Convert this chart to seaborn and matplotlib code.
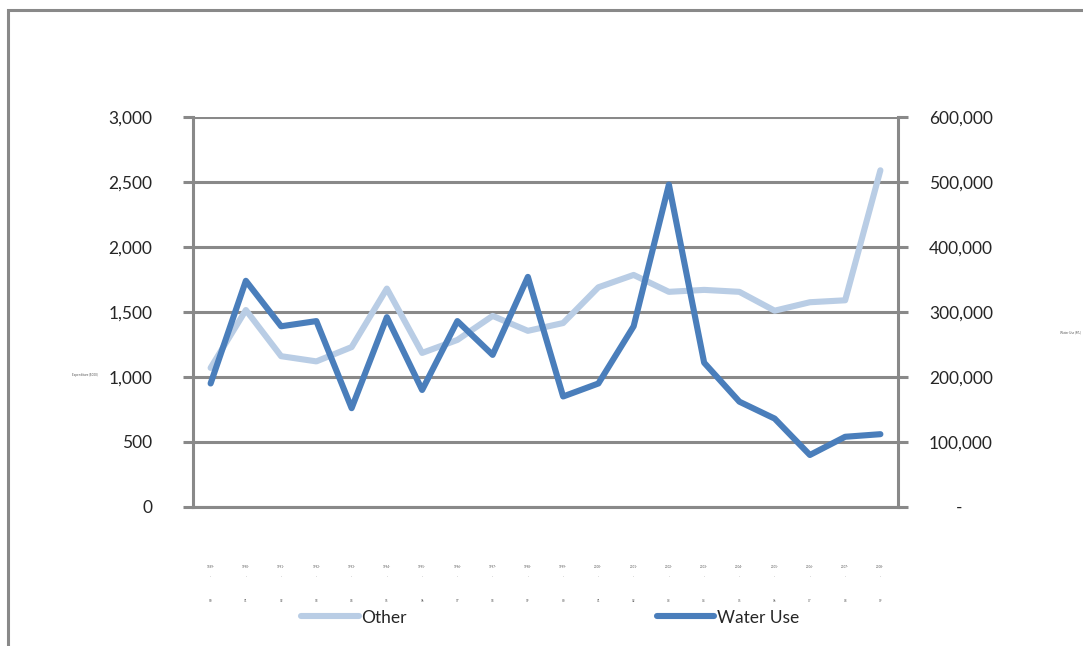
import matplotlib
matplotlib.use("Agg")
import matplotlib.pyplot as plt
import seaborn as sns
import pandas as pd
from matplotlib.patches import Rectangle
from matplotlib.ticker import FuncFormatter

# valores
years = ['1989', '1990', '1991', '1992', '1993', '1994', '1995', '1996', '1997', '1998',
         '1999', '2000', '2001', '2002', '2003', '2004', '2005', '2006', '2007', '2008']
other = [1070, 1515, 1160, 1120, 1230, 1680, 1185, 1285, 1470, 1355,
         1415, 1690, 1785, 1655, 1670, 1655, 1510, 1575, 1590, 2590]
water_use = [190000, 348000, 278000, 286000, 152000, 292000, 180000, 286000, 234000, 354000,
             170000, 190000, 278000, 496000, 222000, 162000, 136000, 80000, 108000, 112000]

sns.set_style("white")
plt.rcParams['font.family'] = ['Lato', 'DejaVu Sans']

df = pd.DataFrame({'pos': range(len(years)), 'Other': other, 'Water Use': water_use})

fig = plt.figure(figsize=(10.83, 6.46), dpi=100)
ax = fig.add_axes([0.1782, 0.2152, 0.651, 0.6037])
ax2 = ax.twinx()

gris = '#898989'
sns.lineplot(data=df, x='pos', y='Other', ax=ax, color='#B9CDE5', linewidth=4.4,
             solid_capstyle='round', label='Other', legend=False)
sns.lineplot(data=df, x='pos', y='Water Use', ax=ax2, color='#4A7EBB', linewidth=4.4,
             solid_capstyle='round', label='Water Use', legend=False)

ax.set_xlim(-0.5, len(years) - 0.5)
ax.set_ylim(0, 3000)
ax2.set_ylim(0, 600000)
ax.set_yticks(range(0, 3001, 500))
ax2.set_yticks(range(0, 600001, 100000))
ax.yaxis.set_major_formatter(FuncFormatter(lambda v, p: f'{int(v):,}'))
ax2.yaxis.set_major_formatter(FuncFormatter(lambda v, p: f'{int(v):,}' if v > 0 else '      -'))

ax.grid(axis='y', color=gris, linewidth=2.2)
ax.grid(axis='x', visible=False)
ax2.grid(False)
ax.set_axisbelow(True)

for a in (ax, ax2):
    for s in a.spines.values():
        s.set_visible(False)
ax.spines['left'].set_visible(True)
ax.spines['bottom'].set_visible(True)
ax2.spines['right'].set_visible(True)
for s in (ax.spines['left'], ax.spines['bottom'], ax2.spines['right']):
    s.set_color(gris)
    s.set_linewidth(2.2)

ax.tick_params(axis='y', length=7.2, width=2.2, color=gris, pad=22, labelsize=12.5, left=True)
ax2.tick_params(axis='y', length=7.2, width=2.2, color=gris, pad=15, labelsize=12.5, right=True)

# etiquetas del eje x muy pequenas, como en el original
labels = [f'{y}-\n\n·\n\n\n\n\n{str(int(y) + 1)[2:]}' for y in years]
ax.set_xticks(range(len(years)))
ax.set_xticklabels(labels, fontsize=2.2, color='#555555', linespacing=1.25)
ax.tick_params(axis='x', length=0, pad=42)
ax.set_xlabel('')
ax.set_ylabel('')
ax2.set_ylabel('')

fig.text(0.078, 0.419, 'Expenditure ($000)', fontsize=2.2, color='#555555', ha='center', va='center')
fig.text(0.988, 0.486, 'Water Use (ML)', fontsize=2.2, color='#555555', ha='center', va='center')

h1, l1 = ax.get_legend_handles_labels()
h2, l2 = ax2.get_legend_handles_labels()
fig.legend(h1 + h2, l1 + l2, loc='center', bbox_to_anchor=(0.508, 0.044), ncol=2,
           frameon=False, fontsize=12.5, handlelength=3.3, handletextpad=0.15,
           columnspacing=14.4)

# marco exterior del area del grafico
fig.patches.append(Rectangle((8 / 1083, -0.1), 1.2, 0.1 + (646 - 10) / 646,
                             transform=fig.transFigure, fill=False,
                             edgecolor=gris, linewidth=2.2))

fig.savefig('out.png', dpi=100)
